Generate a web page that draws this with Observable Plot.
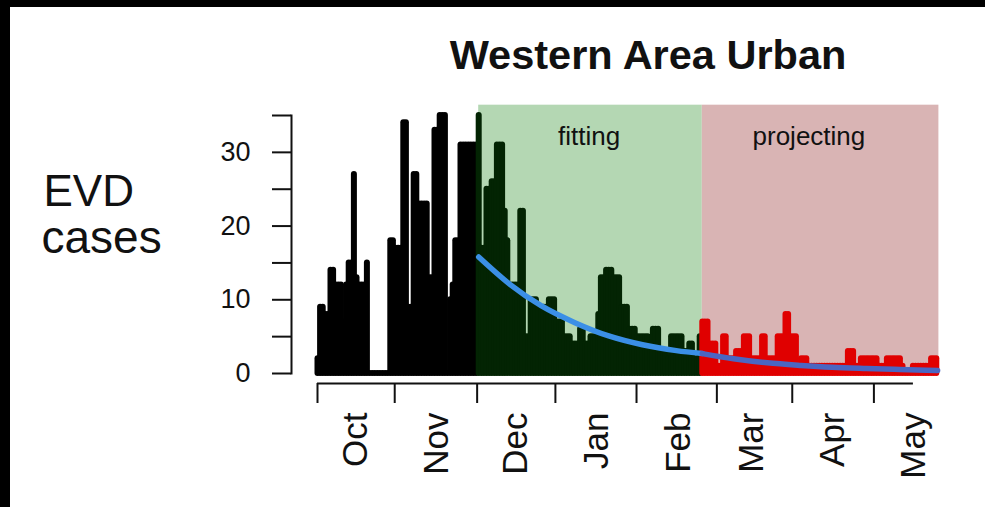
<!DOCTYPE html>
<html>
<head>
<meta charset="utf-8">
<script src="https://cdn.jsdelivr.net/npm/d3@7"></script>
<script src="https://cdn.jsdelivr.net/npm/@observablehq/plot@0.6"></script>
<style>
  html, body { margin: 0; padding: 0; background: #fff; }
  #wrap { position: relative; width: 985px; height: 507px; overflow: hidden; }
  #wrap svg { position: absolute; left: 0; top: 0; }
  .band { position: absolute; background: #000; }
</style>
</head>
<body>
<div id="wrap"></div>
<script>
// ---- data ----
const title = "Western Area Urban";
const yLabelLines = ["EVD", "cases"];
const phaseLabels = ["fitting", "projecting"];
const phaseLabelDays = [104.5, 189];
// daily EVD cases, day 0 = start of plotted series
const cases = [
  2,9,9,8,8,14,14,12,12,12,
  7,12,15,15,27,13,12,12,12,15,
  0,0,0,0,0,0,0,0,18,18,
  17,17,17,34,34,9,9,27,27,23,
  23,23,23,13,13,33,33,35,35,35,
  0,10,12,18,18,31,31,31,31,31,
  31,31,35,17,17,25,25,26,26,31,
  31,31,22,18,12,12,12,12,22,22,
  5,5,10,10,10,9,9,9,9,10,
  10,10,7,7,7,5,5,5,4,4,
  4,6,6,4,4,5,5,5,8,13,
  13,14,14,14,13,13,13,9,9,9,
  6,6,6,5,5,5,5,5,4,6,
  6,6,3,3,3,2,5,5,5,5,
  5,3,3,4,4,2,2,5,
  7,7,7,4,4,4,1,1,5,5,
  2,2,2,3,3,3,5,5,5,2,
  2,2,2,5,5,2,2,2,2,5,
  5,5,8,8,5,5,5,1,2,2,
  2,1,1,1,1,1,1,1,1,1,
  1,1,1,1,1,1,3,3,3,1,
  1,2,2,2,2,2,2,2,1,1,
  1,2,2,2,2,2,2,1,0,0,
  0,1,1,1,1,1,1,1,2,2,
  2
];
const fitStart = 62;     // first day of fitting window
const projStart = 148;   // first day of projection window
const endDay = 239;      // end of projection window
// fitted curve
const fitDays = [62, 74, 86, 99, 112, 125, 138, 148];
const fitVals = [15.8, 12.1, 9.2, 6.9, 5.1, 3.9, 3.1, 2.7];
// projected curve
const projDays = [148, 160, 173, 186, 198, 211, 224, 238.5];
const projVals = [2.7, 2.0, 1.45, 1.1, 0.85, 0.68, 0.54, 0.41];
// axes
const yTicks = [0, 5, 10, 15, 20, 25, 30, 35];
const xTickDays = [0, 29.7, 61.4, 91.5, 122.7, 153.6, 182.6, 214];
const monthLabels = ["Oct", "Nov", "Dec", "Jan", "Feb", "Mar", "Apr", "May"];
const monthLabelDays = [14.6, 46.0, 76.2, 107.3, 138.8, 167.2, 198.2, 229.2];

// ---- build ----
const bars = cases.map((v, i) => ({
  day: i, v,
  phase: i < fitStart ? "pre" : i < projStart ? "fit" : "proj"
}));
const barColor = {pre: "#000000", fit: "#032403", proj: "#e00000"};
const windows = [
  {x1: fitStart, x2: projStart, fill: "#b4d7b3", label: phaseLabels[0], lx: phaseLabelDays[0]},
  {x1: projStart, x2: endDay, fill: "#d9b4b4", label: phaseLabels[1], lx: phaseLabelDays[1]}
];
const fitLine = fitDays.map((d, i) => ({day: d, v: fitVals[i]}));
const projLine = projDays.map((d, i) => ({day: d, v: projVals[i]}));

const font = "'Liberation Sans', Arial, Helvetica, sans-serif";

const chart = Plot.plot({
  width: 985,
  height: 507,
  marginLeft: 291,
  marginTop: 115,
  marginRight: 47,
  marginBottom: 124,
  style: {fontFamily: font, background: "transparent", color: "#111", overflow: "visible"},
  x: {domain: [0, endDay], range: [317, 938.4]},
  y: {domain: [0, 35], range: [373, 115]},
  marks: [
    Plot.rect(windows, {x1: "x1", x2: "x2", y1: 0, y2: 36.4, fill: "fill"}),
    Plot.text(windows, {x: "lx", y: 36.4, text: "label", dy: 40, lineAnchor: "bottom", fontSize: 26, fill: "#111"}),
    Plot.ruleX(bars, {x: "day", y1: 0, y2: "v", stroke: d => barColor[d.phase], strokeWidth: 6, strokeLinecap: "round"}),
    Plot.line(fitLine, {x: "day", y: "v", stroke: "#3b8fe6", strokeWidth: 5.5, curve: "monotone-x", strokeLinecap: "round"}),
    Plot.line(projLine, {x: "day", y: "v", stroke: "#4a66c2", strokeWidth: 5.5, curve: "monotone-x", strokeLinecap: "round"}),
    // y axis
    Plot.frame({anchor: "left", insetBottom: 10, stroke: "#111", strokeWidth: 2}),
    Plot.axisY({ticks: yTicks, tickSize: 19, tickPadding: 22, tickFormat: d => d % 10 ? "" : String(d), fontSize: 27, label: null, strokeWidth: 2, stroke: "#111"}),
    // x axis
    Plot.ruleY([0], {x1: xTickDays[0], x2: monthLabelDays[monthLabelDays.length - 1], dy: 10, stroke: "#111", strokeWidth: 2}),
    Plot.axisX({ticks: xTickDays, tickSize: 20, tickFormat: () => "", label: null, strokeWidth: 2, stroke: "#111"}),
    Plot.text(monthLabels, {x: (d, i) => monthLabelDays[i], frameAnchor: "bottom", dy: 29, rotate: -90, textAnchor: "end", lineAnchor: "middle", fontSize: 35, fill: "#111"}),
    // titles
    Plot.text([title], {frameAnchor: "top-left", dx: 356.5, dy: -47, textAnchor: "middle", lineAnchor: "bottom", fontSize: 41.5, fontWeight: "bold", fill: "#111"}),
    Plot.text([yLabelLines[0]], {frameAnchor: "top-left", dx: 43 - 291, dy: 205 - 115, textAnchor: "start", lineAnchor: "bottom", fontSize: 44, fill: "#111"}),
    Plot.text([yLabelLines[1]], {frameAnchor: "top-left", dx: 41 - 291, dy: 252 - 115, textAnchor: "start", lineAnchor: "bottom", fontSize: 46, fill: "#111"})
  ]
});
const wrap = document.getElementById("wrap");
wrap.appendChild(chart);
// black photo frame edges
[["0px","0px","985px","7px"],["0px","0px","10px","507px"]].forEach(([l,t,w,h]) => {
  const b = document.createElement("div");
  b.className = "band";
  Object.assign(b.style, {left: l, top: t, width: w, height: h});
  wrap.appendChild(b);
});
</script>
</body>
</html>
